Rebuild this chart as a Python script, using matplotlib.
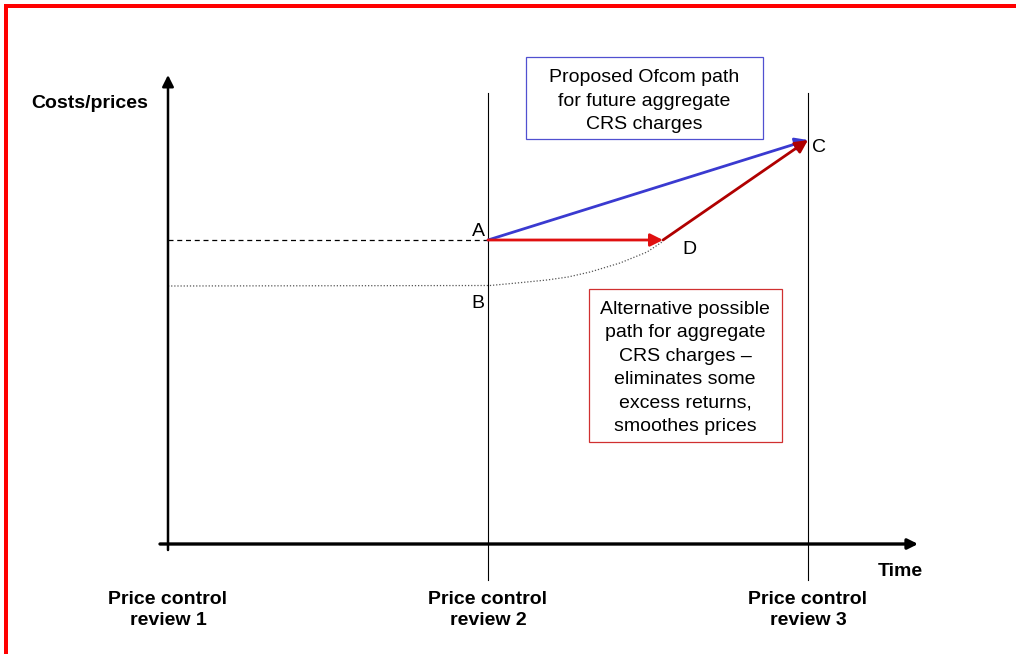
import matplotlib.pyplot as plt
from matplotlib.patches import Rectangle

plt.rcParams['font.family'] = ['Liberation Sans', 'DejaVu Sans']

# time axis: price control reviews 1, 2, 3
review_t = [0, 1, 2]
review_labels = ["Price control\nreview 1", "Price control\nreview 2", "Price control\nreview 3"]

# cost / price levels (arbitrary units)
point_A = (1.0, 3.04)
point_B = (1.0, 2.58)
point_C = (2.0, 4.04)
point_D = (1.547, 3.04)

# dotted cost path from B rising to D
cost_t = [0.0, 1.006, 1.09, 1.184, 1.25, 1.319, 1.4125, 1.497, 1.544]
cost_p = [2.58, 2.585, 2.61, 2.64, 2.67, 2.72, 2.81, 2.92, 3.02]

fig = plt.figure(figsize=(10.16, 6.54), dpi=100)
ax = fig.add_axes([0, 0, 1, 1])
ax.set_xlim(-0.525, 2.65)
ax.set_ylim(-1.10, 5.44)
ax.axis('off')

# red frame (left and top only)
fig.add_artist(Rectangle((4 / 1016, 0), 3.5 / 1016, 650 / 654, transform=fig.transFigure,
                         color='#ff0000', lw=0))
fig.add_artist(Rectangle((4 / 1016, 646 / 654), 1012 / 1016, 4 / 654, transform=fig.transFigure,
                         color='#ff0000', lw=0))

# axes arrows
ax.annotate('', xy=(0, 4.69), xytext=(0, -0.06),
            arrowprops=dict(arrowstyle='-|>', color='black', lw=1.8, mutation_scale=17,
                            shrinkA=0, shrinkB=0))
ax.annotate('', xy=(2.344, 0), xytext=(-0.025, 0),
            arrowprops=dict(arrowstyle='-|>', color='black', lw=2.4, mutation_scale=15,
                            shrinkA=0, shrinkB=0))

# review markers
for t in review_t[1:]:
    ax.plot([t, t], [-0.36, 4.51], color='black', lw=0.8)

# level lines
ax.plot([0, point_A[0]], [point_A[1], point_A[1]], color='black', lw=0.9, dashes=(4, 3))
ax.plot(cost_t, cost_p, color='#555555', lw=0.9, linestyle=(0, (1, 1.5)))

# paths
ax.annotate('', xy=point_C, xytext=point_A,
            arrowprops=dict(arrowstyle='-|>', color='#3a3ad0', lw=2.0, mutation_scale=19,
                            shrinkA=0, shrinkB=0))
ax.annotate('', xy=point_D, xytext=point_A,
            arrowprops=dict(arrowstyle='-|>', color='#e01010', lw=2.0, mutation_scale=19,
                            shrinkA=0, shrinkB=0))
ax.annotate('', xy=point_C, xytext=point_D,
            arrowprops=dict(arrowstyle='-|>', color='#b00000', lw=2.0, mutation_scale=19,
                            shrinkA=0, shrinkB=0))

# point labels
fs = 14
ax.text(point_A[0] - 0.009, point_A[1] + 0.08, 'A', ha='right', va='center', fontsize=fs)
ax.text(point_B[0] - 0.012, point_B[1] - 0.18, 'B', ha='right', va='center', fontsize=fs)
ax.text(point_C[0] + 0.0125, point_C[1] - 0.08, 'C', ha='left', va='center', fontsize=fs)
ax.text(point_D[0] + 0.084, point_D[1] - 0.09, 'D', ha='center', va='center', fontsize=fs)

# explanatory boxes
ax.add_patch(Rectangle((1.119, 4.05), 0.74, 0.82, fill=False, ec='#5050d0', lw=0.9))
ax.text(1.487, 4.43, "Proposed Ofcom path\nfor future aggregate\nCRS charges",
        ha='center', va='center', fontsize=fs, linespacing=1.5)
ax.add_patch(Rectangle((1.316, 1.02), 0.603, 1.53, fill=False, ec='#d03030', lw=0.9))
ax.text(1.6156, 1.76, "Alternative possible\npath for aggregate\nCRS charges \u2013\n"
        "eliminates some\nexcess returns,\nsmoothes prices",
        ha='center', va='center', fontsize=fs, linespacing=1.5)

# axis titles
ax.text(-0.244, 4.41, 'Costs/prices', ha='center', va='center', fontsize=fs, fontweight='bold')
ax.text(2.29, -0.27, 'Time', ha='center', va='center', fontsize=fs, fontweight='bold')
for t, lab in zip(review_t, review_labels):
    ax.text(t, -0.66, lab, ha='center', va='center', fontsize=fs, fontweight='bold',
            linespacing=1.32)

fig.savefig('out.png', dpi=100)
